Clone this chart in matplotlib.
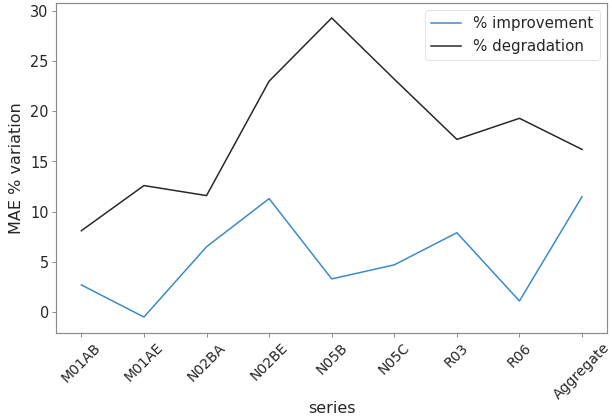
import matplotlib
matplotlib.use("Agg")
import matplotlib.pyplot as plt

series = ["M01AB", "M01AE", "N02BA", "N02BE", "N05B", "N05C", "R03", "R06", "Aggregate"]
improvement = [2.7, -0.5, 6.5, 11.3, 3.3, 4.7, 7.9, 1.1, 11.5]
degradation = [8.1, 12.6, 11.6, 23.0, 29.3, 23.2, 17.2, 19.3, 16.2]

text_color = "#262626"
spine_color = "#8c8c8c"

fig, ax = plt.subplots(figsize=(8.5, 5.82), dpi=72)
fig.subplots_adjust(left=0.092, right=0.992, top=0.993, bottom=0.205)

ax.plot(series, improvement, color="#3a89c9", linewidth=1.5, label="% improvement")
ax.plot(series, degradation, color="#262626", linewidth=1.5, label="% degradation")

ax.set_ylim(-2.1, 30.8)
ax.set_yticks([0, 5, 10, 15, 20, 25, 30])
ax.set_xlabel("series", fontsize=16, color=text_color, labelpad=-1)
ax.set_ylabel("MAE % variation", fontsize=16, color=text_color, labelpad=6)
ax.tick_params(axis="both", colors=spine_color, labelcolor=text_color, length=4, width=1)
ax.tick_params(axis="y", labelsize=14.5)
ax.tick_params(axis="x", labelsize=14)
plt.setp(ax.get_xticklabels(), rotation=45, ha="center", rotation_mode="default")
for spine in ax.spines.values():
    spine.set_color(spine_color)
    spine.set_linewidth(1.2)

leg = ax.legend(fontsize=15, loc="upper right", framealpha=0.8)
leg.get_frame().set_edgecolor("#dddddd")
for t in leg.get_texts():
    t.set_color(text_color)

fig.savefig("out.png", dpi=72)
